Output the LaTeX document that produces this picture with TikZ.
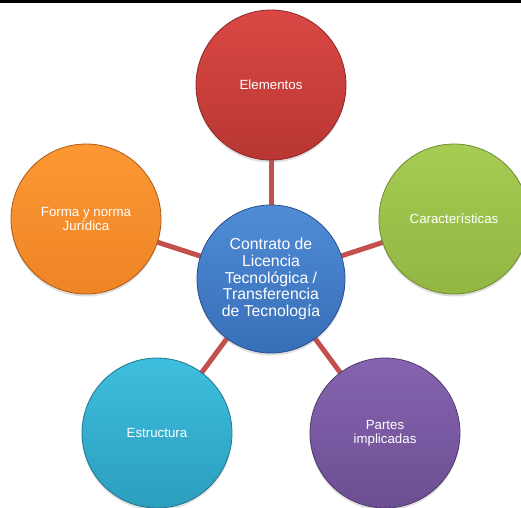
\documentclass[tikz,border=0pt]{standalone}
\usepackage{fontspec}
\setmainfont{Liberation Sans}
\usetikzlibrary{shadows,backgrounds}
\definecolor{redT}{RGB}{218,72,68}
\definecolor{redB}{RGB}{184,54,51}
\definecolor{redD}{RGB}{140,40,38}
\definecolor{grnT}{RGB}{166,204,84}
\definecolor{grnB}{RGB}{146,182,66}
\definecolor{grnD}{RGB}{110,140,50}
\definecolor{purT}{RGB}{134,100,176}
\definecolor{purB}{RGB}{108,78,146}
\definecolor{purD}{RGB}{80,58,110}
\definecolor{cyaT}{RGB}{62,190,222}
\definecolor{cyaB}{RGB}{44,158,190}
\definecolor{cyaD}{RGB}{32,118,142}
\definecolor{orgT}{RGB}{252,152,52}
\definecolor{orgB}{RGB}{238,132,36}
\definecolor{orgD}{RGB}{170,90,24}
\definecolor{bluT}{RGB}{80,140,214}
\definecolor{bluB}{RGB}{56,110,184}
\definecolor{bluD}{RGB}{40,80,140}
\definecolor{connC}{RGB}{196,80,77}
\tikzset{
  ball/.style n args={3}{circle, minimum size=150pt, inner sep=0pt,
    top color=#1, bottom color=#2, draw=#3, line width=0.8pt,
    text=white, align=center,
    font=\fontsize{13.3}{14}\selectfont,
    drop shadow={opacity=0.25, shadow xshift=0pt, shadow yshift=-2.5pt}},
  conn/.style={draw=connC, line width=5pt}
}
\begin{document}
\begin{tikzpicture}[x=1pt,y=-1pt]
\useasboundingbox (0,0) rectangle (521,507);
\node[ball={redT}{redB}{redD}] (el) at (271,85) {Elementos};
\node[ball={grnT}{grnB}{grnD}] (ca) at (454,219) {Características};
\node[ball={purT}{purB}{purD}] (pa) at (385,433) {Partes\\implicadas};
\node[ball={cyaT}{cyaB}{cyaD}] (es) at (157,433) {Estructura};
\node[ball={orgT}{orgB}{orgD}] (fo) at (86,219) {Forma y norma\\Jurídica};
\node[ball={bluT}{bluB}{bluD}, minimum size=148pt, font=\fontsize{15.8}{16.6}\selectfont] (c) at (271,279) {Contrato de\\Licencia\\Tecnológica /\\Transferencia\\de Tecnología};
\begin{scope}[on background layer]
\fill[white] (0,0) rectangle (521,507);
\draw[conn] (c.center) -- (el.center);
\draw[conn] (c.center) -- (ca.center);
\draw[conn] (c.center) -- (pa.center);
\draw[conn] (c.center) -- (es.center);
\draw[conn] (c.center) -- (fo.center);
\end{scope}
\fill[black] (0,0) rectangle (521,3);
\end{tikzpicture}
\end{document}
